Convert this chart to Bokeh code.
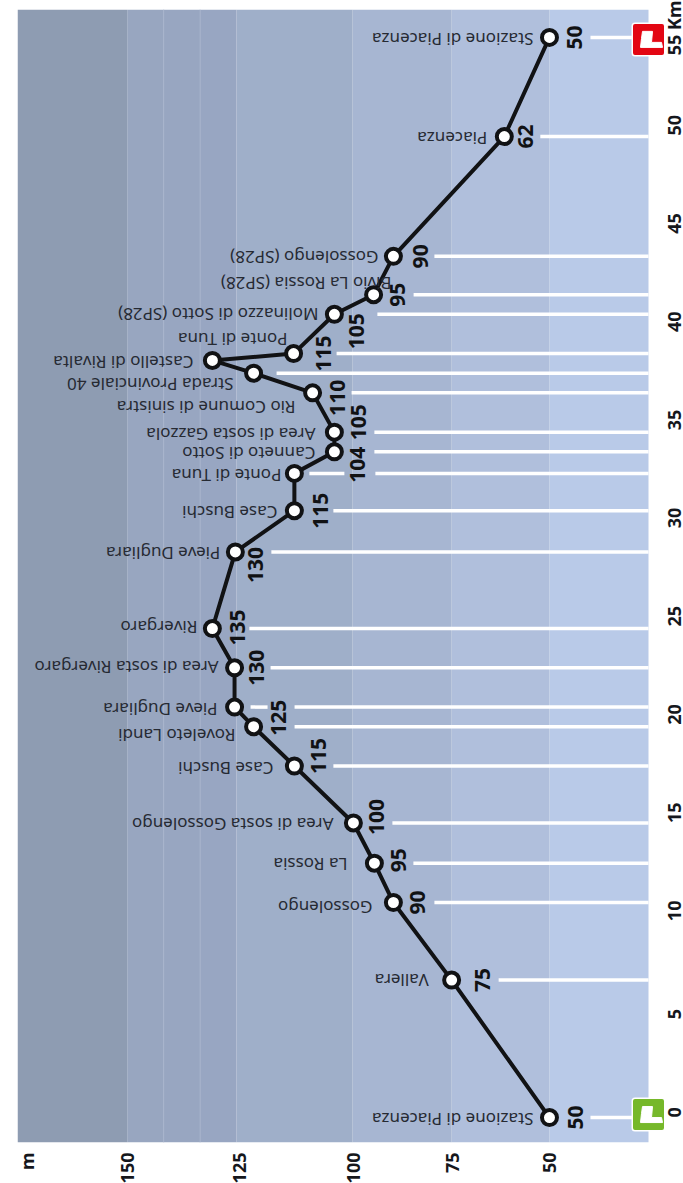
from math import pi
from bokeh.plotting import figure
from bokeh.models import ColumnDataSource, FixedTicker, Range1d
from bokeh.core.properties import value
from bokeh.embed import file_html
from bokeh.resources import INLINE

# ---------- data ----------
km = [0, 7, 10.95, 12.95, 15, 17.9, 19.9, 20.9, 22.9, 24.9, 28.8, 30.9,
      32.8, 33.9, 34.9, 36.9, 37.9, 38.55, 38.9, 40.9, 41.9, 43.85, 49.95, 55]
elev = [50, 74.7, 89.4, 94.2, 99.5, 114.4, 124.7, 129.5, 129.5, 135.1, 129.3, 114.4,
        114.4, 104.3, 104.3, 109.8, 124.7, 135.1, 114.6, 104.3, 94.4, 89.4, 61.4, 50]
stops = ["Stazione di Piacenza", "Vallera", "Gossolengo", "La Rossia",
         "Area di sosta Gossolengo", "Case Buschi", "Roveleto Landi", "Pieve Dugliara",
         "Area di sosta Rivergaro", "Rivergaro", "Pieve Dugliara", "Case Buschi",
         "Ponte di Tuna", "Canneto di Sotto", "Area di sosta Gazzola",
         "Rio Comune di sinistra", "Strada Provinciale 40", "Castello di Rivalta",
         "Ponte di Tuna", "Molinazzo di Sotto (SP28)", "Bivio La Rossia (SP28)",
         "Gossolengo (SP28)", "Piacenza", "Stazione di Piacenza"]
heights = ["50", "75", "90", "95", "100", "115", "125", "", "130", "135", "130", "115",
           "", "104", "105", "110", "", "", "115", "105", "95", "90", "62", "50"]

band_edges = [25, 50, 74.7, 99.7, 129, 138.2, 147.4, 156.6, 184.3]
band_colors = ["#b9cae8", "#b0bfdc", "#a7b6d2", "#9fafc9", "#98a6c2", "#98a6c1", "#98a6c0", "#8e9cb2"]
band_lines = [138.2, 147.4]

km_ticks = list(range(0, 60, 5))
elev_ticks = [50, 74.7, 99.7, 128.3, 156.6, 182]
elev_tick_labels = ["50", "75", "100", "125", "150", "m"]

# ---------- layout (pixels) ----------
BAND_W, FRAME_H = 631, 1133
ICON_ROOM = 20
FRAME_W = BAND_W + ICON_ROOM
XMIN, XMAX = 25, 184.3
YMIN, YMAX = -1.27, 56.42
PX_M = BAND_W / (XMAX - XMIN)
PX_KM = FRAME_H / (YMAX - YMIN)

name_dx = [16, 23, 21, 27, 20, 21, 18, 17, 16, 15, 15, 17, 13, 19, 19, 17, 20, 19, 6, 16, -18, 15, 17, 16]
name_dy = [0, -2, 3, -1, 0, 0, 7, 0, -2, -3, 0, 0, 0, 0, 0, 13, 9, 0, -16, -2, -13, -1, 0, 0]
val_dx = [26, 31, 24, 24, 23, 24, 25, 0, 22, 25, 20, 26, 0, 23, 24, 25, 0, 0, 30, 22, 24, 27, 21, 25]
val_dy = [0, 0, 0, -3, -6, -10, -9, 0, 0, -1, 13, 0, 0, 13, -10, 5, 0, 0, 0, 17, 0, 0, 0, 0]
# gap between marker and start of the white stem; spans = (stop, from, to) for broken stems
stem_gap = [41, 47, 41, 39, 39, 39, 41, 60, 36, 37, 36, 39, 81, 40, 40, 39, 23, None, 43, 43, 40, 41, 36, 41]
stem_spans = [(7, 16, 33), (12, 15, 50)]

p = figure(frame_width=FRAME_W, frame_height=FRAME_H, width=683, height=1183,
           x_range=Range1d(XMAX, XMIN - ICON_ROOM / PX_M), y_range=Range1d(YMIN, YMAX),
           output_backend="svg", toolbar_location=None,
           x_axis_location="below", y_axis_location="right",
           min_border_left=17, min_border_right=0, min_border_top=9, min_border_bottom=0)
p.outline_line_color = None
p.grid.visible = False

# axes
for ax in (p.xaxis[0], p.yaxis[0]):
    ax.axis_line_color = None
    ax.major_tick_line_color = None
    ax.minor_tick_line_color = None
    ax.major_label_text_font = "Noto Sans"
    ax.major_label_text_font_size = "18px"
    ax.major_label_text_font_style = "bold"
    ax.major_label_text_color = "#15171c"
    ax.major_label_orientation = pi / 2
p.xaxis[0].ticker = FixedTicker(ticks=elev_ticks)
p.xaxis[0].major_label_overrides = {float(t) if t != int(t) else int(t): s for t, s in zip(elev_ticks, elev_tick_labels)}
p.xaxis[0].major_label_standoff = 4
p.xaxis[0].major_label_text_align = "center"
p.yaxis[0].ticker = FixedTicker(ticks=km_ticks)
p.yaxis[0].major_label_overrides = {55: "55 Km"}
p.yaxis[0].major_label_standoff = 0

# bands
p.quad(left=band_edges[:-1], right=band_edges[1:], bottom=YMIN, top=YMAX,
       fill_color=band_colors, line_color=None)
p.segment(x0=band_lines, x1=band_lines, y0=YMIN, y1=YMAX, line_color="#a6b3cc", line_width=1)

# stems
sx0, sx1, sy = [], [], []
for e, k, g in zip(elev, km, stem_gap):
    if g is not None:
        sx0.append(e - g / PX_M); sx1.append(XMIN); sy.append(k)
for i, a, b in stem_spans:
    sx0.append(elev[i] - a / PX_M); sx1.append(elev[i] - b / PX_M); sy.append(km[i])
p.segment(x0=sx0, x1=sx1, y0=sy, y1=sy, line_color="white", line_width=3.5)

# route
p.line(elev, km, line_color="#111214", line_width=4, line_join="round")
p.scatter(elev, km, marker="circle", size=15, fill_color="white", line_color="#111214", line_width=4)

# stop names (upside down, running leftwards from the marker)
p.text(x="e", y="k", text="t", x_offset="dx", y_offset="dy",
       source=ColumnDataSource(dict(e=elev, k=km, t=stops, dx=[-d for d in name_dx], dy=[d + 2 for d in name_dy])),
       angle=pi, text_align="left", text_baseline="middle",
       text_font=value("Noto Sans"), text_font_size="17px", text_color="#262a33")

# height labels
idx = [i for i, h in enumerate(heights) if h]
p.text(x="e", y="k", text="t", x_offset="dx", y_offset="dy",
       source=ColumnDataSource(dict(e=[elev[i] for i in idx], k=[km[i] for i in idx],
                                    t=[heights[i] for i in idx],
                                    dx=[val_dx[i] for i in idx], dy=[val_dy[i] for i in idx])),
       angle=pi / 2, text_align="center", text_baseline="middle",
       text_font=value("Noto Sans"), text_font_size="21px", text_font_style="bold",
       text_color="#111214")

# start / finish icons
flag_x = [-6, 4, 3, 13, 14, -8, -7]
flag_y = [-8, -8, 3, 3, 8, 8, -1]
for k, up, col in ((km[0], 3, "#76b82a"), (km[-1], -2, "#e30613")):
    cy = k + up / PX_KM
    cx = XMIN
    p.rect([cx], [cy], width=27, height=27, width_units="screen", height_units="screen",
           fill_color="white", line_color="white", line_width=7, line_join="round")
    p.rect([cx], [cy], width=27, height=27, width_units="screen", height_units="screen",
           fill_color=col, line_color=col, line_width=4, line_join="round")
    p.patch([cx - dx / PX_M for dx in flag_x], [cy - dy / PX_KM for dy in flag_y],
            fill_color="white", line_color="white", line_width=1)

open("out.html", "w").write(file_html(p, INLINE))
